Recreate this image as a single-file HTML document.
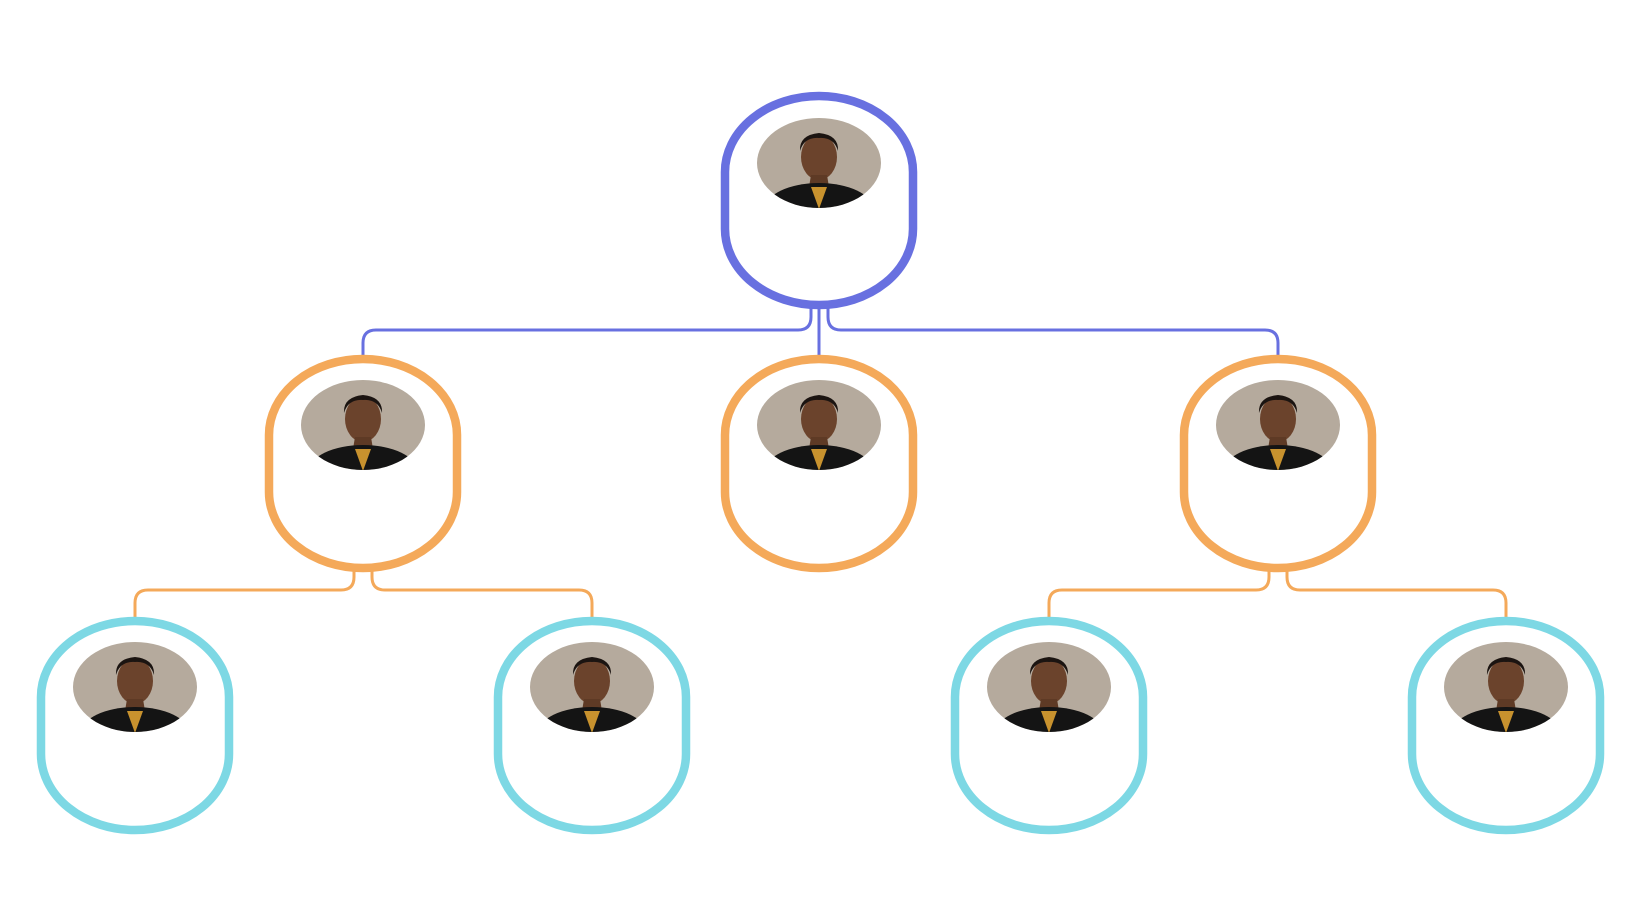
<!DOCTYPE html>
<html><head><meta charset="utf-8"><style>html,body{margin:0;padding:0;background:#fff}svg{display:block}</style></head>
<body>
<svg width="1640" height="924" viewBox="0 0 1640 924" xmlns="http://www.w3.org/2000/svg">
<defs>
<clipPath id="ph"><ellipse cx="0" cy="0" rx="62" ry="45"/></clipPath>
<g id="photo">
 <g clip-path="url(#ph)">
  <rect x="-64" y="-46" width="128" height="92" fill="#b5aa9d"/>
  <ellipse cx="0" cy="-6" rx="18" ry="23" fill="#6b432c"/>
  <path d="M-8 12 L8 12 L10 24 L-10 24Z" fill="#5e3a25"/>
  <ellipse cx="0" cy="46" rx="54" ry="26" fill="#141414"/>
  <path d="M-8 24 L0 46 L8 24Z" fill="#c8922e"/>
  <path d="M0 -30 q-20 2 -19 18 q4 -14 19 -13 q15 -1 19 13 q1 -16 -19 -18Z" fill="#1b1411"/>
 </g>
</g>
</defs>
<g fill="none" stroke-linecap="round">
<g stroke="#6870e0" stroke-width="3">
 <path d="M819 306 V355"/>
 <path d="M811 306 V317 Q811 330 798 330 H376 Q363 330 363 343 V355"/>
 <path d="M828 306 V317 Q828 330 841 330 H1265 Q1278 330 1278 343 V355"/>
</g>
<g stroke="#f4a95a" stroke-width="3">
 <path d="M354 569 V577 Q354 590 341 590 H148 Q135 590 135 603 V617"/>
 <path d="M372 569 V577 Q372 590 385 590 H579 Q592 590 592 603 V617"/>
 <path d="M1269 569 V577 Q1269 590 1256 590 H1062 Q1049 590 1049 603 V617"/>
 <path d="M1287 569 V577 Q1287 590 1300 590 H1493 Q1506 590 1506 603 V617"/>
</g>
<g stroke-width="8.5">
 <rect x="725" y="96" width="188" height="209" rx="94" ry="76" stroke="#6870e0"/>
 <rect x="269" y="359" width="188" height="209" rx="94" ry="76" stroke="#f4a95a"/>
 <rect x="725" y="359" width="188" height="209" rx="94" ry="76" stroke="#f4a95a"/>
 <rect x="1184" y="359" width="188" height="209" rx="94" ry="76" stroke="#f4a95a"/>
 <rect x="41" y="621" width="188" height="209" rx="94" ry="76" stroke="#7dd8e4"/>
 <rect x="498" y="621" width="188" height="209" rx="94" ry="76" stroke="#7dd8e4"/>
 <rect x="955" y="621" width="188" height="209" rx="94" ry="76" stroke="#7dd8e4"/>
 <rect x="1412" y="621" width="188" height="209" rx="94" ry="76" stroke="#7dd8e4"/>
</g>
</g>
<use href="#photo" x="819" y="163"/>
<use href="#photo" x="363" y="425"/>
<use href="#photo" x="819" y="425"/>
<use href="#photo" x="1278" y="425"/>
<use href="#photo" x="135" y="687"/>
<use href="#photo" x="592" y="687"/>
<use href="#photo" x="1049" y="687"/>
<use href="#photo" x="1506" y="687"/>
</svg>
</body></html>
